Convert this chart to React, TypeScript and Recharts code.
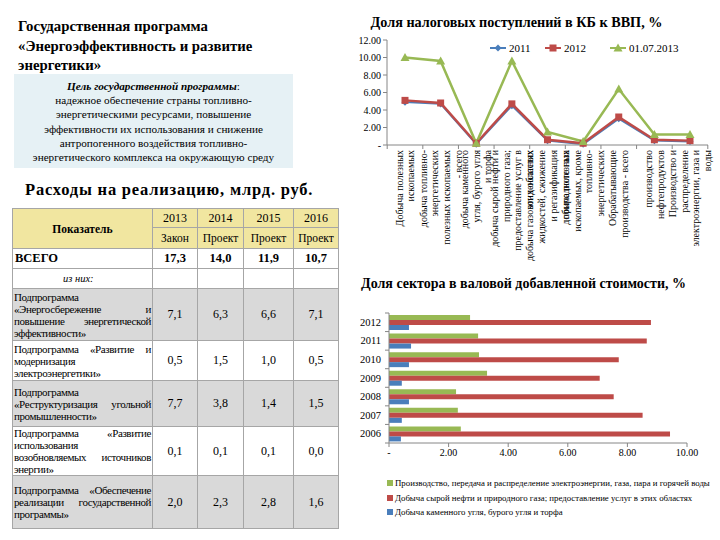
import React from "react";
import { LineChart, Line, XAxis, YAxis, Legend, BarChart, Bar } from "recharts";

const SERIF = '"Liberation Serif", "Times New Roman", serif';

// --- таблица расходов ---
const planYears = ["2013", "2014", "2015", "2016"];
const planStatus = ["Закон", "Проект", "Проект", "Проект"];
const totalSpend = ["17,3", "14,0", "11,9", "10,7"];
const subprogramNames = [
  "Подпрограмма «Энергосбережение и повышение энергетической эффективности»",
  "Подпрограмма «Развитие и модернизация электроэнергетики»",
  "Подпрограмма «Реструктуризация угольной промышленности»",
  "Подпрограмма «Развитие использования возобновляемых источников энергии»",
  "Подпрограмма «Обеспечение реализации государственной программы»",
];
const subprogramSpend = [
  ["7,1", "6,3", "6,6", "7,1"],
  ["0,5", "1,5", "1,0", "0,5"],
  ["7,7", "3,8", "1,4", "1,5"],
  ["0,1", "0,1", "0,1", "0,0"],
  ["2,0", "2,3", "2,8", "1,6"],
];

// --- доля налоговых поступлений ---
const taxCategories = [
  "Добыча полезных\nископаемых",
  "добыча топливно-\nэнергетических\nполезных ископаемых\n- всего",
  "добыча каменного\nугля, бурого угля\nи торфа",
  "добыча сырой нефти и\nприродного газа;\nпредоставление услуг в\nэтих областях",
  "добыча газоконденсатных\nжидкостей, сжижение\nи регазификация\nприродного газа",
  "добыча полезных\nископаемых, кроме\nтопливно-\nэнергетических",
  "Обрабатывающие\nпроизводства - всего",
  "производство\nнефтепродуктов",
  "Производство и\nраспределение\nэлектроэнергии, газа и\nводы",
];
const tax2011 = [4.9, 4.7, 0.1, 4.5, 0.5, 0.1, 3.0, 0.5, 0.4];
const tax2012 = [5.1, 4.8, 0.2, 4.7, 0.6, 0.2, 3.2, 0.6, 0.5];
const tax2013 = [10.0, 9.6, 0.2, 9.6, 1.5, 0.4, 6.4, 1.2, 1.2];
const taxTicks = [0, 2, 4, 6, 8, 10, 12];

// --- доля сектора в ВДС ---
const sectorYears = ["2006", "2007", "2008", "2009", "2010", "2011", "2012"];
const sectorPower = [2.41, 2.31, 2.25, 3.29, 3.02, 2.99, 2.72];
const sectorOilGas = [9.43, 8.51, 7.54, 7.07, 7.71, 8.65, 8.79];
const sectorCoal = [0.4, 0.43, 0.67, 0.43, 0.67, 0.74, 0.67];
const sectorTicks = [0, 2, 4, 6, 8, 10];

const BLUE = "#4A7EBB";
const RED = "#BE4B48";
const GREEN = "#98B954";
const AXIS = "#868686";

const taxData = taxCategories.map((c, i) => ({
  cat: c,
  y2011: tax2011[i],
  y2012: tax2012[i],
  y2013: tax2013[i],
}));

const sectorData = sectorYears.map((y, i) => ({
  year: y,
  power: sectorPower[i],
  oilgas: sectorOilGas[i],
  coal: sectorCoal[i],
}));

const fmt = (v: number) => (v === 0 ? "-" : v.toFixed(2));

// excel style: tick marks between categories
const TAX_HALF = 17.8;
const TaxTick = (props: any) => {
  const { x, y, payload, index } = props;
  const lines = String(payload.value).split("\n");
  const lh = 11.7;
  const n = lines.length;
  return (
    <g transform={`translate(${x},${y})`}>
      <line x1={-TAX_HALF} y1={0} x2={-TAX_HALF} y2={4} stroke={AXIS} />
      {index === taxCategories.length - 1 && (
        <line x1={TAX_HALF} y1={0} x2={TAX_HALF} y2={4} stroke={AXIS} />
      )}
      <text transform="rotate(-90)" textAnchor="end" fontSize={10} fontFamily={SERIF} fill="#000">
        {lines.map((l, i) => (
          <tspan key={i} x={-5} y={(i - (n - 1) / 2) * lh + 3.5}>
            {l}
          </tspan>
        ))}
      </text>
    </g>
  );
};

const SECTOR_HALF = 130 / 7 / 2;
const YearTick = (props: any) => {
  const { x, y, payload, index } = props;
  return (
    <g transform={`translate(${x},${y})`}>
      <line x1={-4} y1={-SECTOR_HALF} x2={0} y2={-SECTOR_HALF} stroke={AXIS} />
      {index === 0 && <line x1={-4} y1={SECTOR_HALF} x2={0} y2={SECTOR_HALF} stroke={AXIS} />}
      <text x={-8} y={0} dy={3.5} textAnchor="end" fontSize={10.5} fontFamily={SERIF} fill="#000">
        {payload.value}
      </text>
    </g>
  );
};

const diamondDot = (p: any) => (
  <path
    key={`d${p.index}`}
    d={`M${p.cx},${p.cy - 3.5}L${p.cx + 3.5},${p.cy}L${p.cx},${p.cy + 3.5}L${p.cx - 3.5},${p.cy}Z`}
    fill={BLUE}
  />
);
const squareDot = (p: any) => (
  <rect key={`s${p.index}`} x={p.cx - 3.5} y={p.cy - 3.5} width={7} height={7} fill={RED} />
);
const triangleDot = (p: any) => (
  <path
    key={`t${p.index}`}
    d={`M${p.cx},${p.cy - 4.5}L${p.cx + 4.5},${p.cy + 3.5}L${p.cx - 4.5},${p.cy + 3.5}Z`}
    fill={GREEN}
  />
);

const taxLegend = [
  { name: "2011", color: BLUE, shape: "diamond", w: 55 },
  { name: "2012", color: RED, shape: "square", w: 65 },
  { name: "01.07.2013", color: GREEN, shape: "triangle", w: 70 },
];

const TaxLegend = () => (
  <div style={{ display: "flex", fontFamily: SERIF, fontSize: 11, lineHeight: "14px" }}>
    {taxLegend.map((s) => (
      <div key={s.name} style={{ width: s.w, display: "flex", alignItems: "center" }}>
        <svg width={17} height={10} style={{ marginRight: 2 }}>
          <line x1={0} y1={5} x2={16} y2={5} stroke={s.color} strokeWidth={2} />
          {s.shape === "diamond" && <path d="M8,1.5L11.5,5L8,8.5L4.5,5Z" fill={s.color} />}
          {s.shape === "square" && <rect x={4.5} y={1.5} width={7} height={7} fill={s.color} />}
          {s.shape === "triangle" && <path d="M8,0.5L12.5,8.5L3.5,8.5Z" fill={s.color} />}
        </svg>
        <span>{s.name}</span>
      </div>
    ))}
  </div>
);

const sectorLegend = [
  { name: "Производство, передача и распределение электроэнергии, газа, пара и горячей воды", color: GREEN },
  { name: "Добыча сырой нефти и природного газа; предоставление услуг в этих областях", color: RED },
  { name: "Добыча каменного угля, бурого угля и торфа", color: BLUE },
];

const SectorLegend = () => (
  <div style={{ fontFamily: SERIF, fontSize: 8.8, lineHeight: "14.5px", whiteSpace: "nowrap" }}>
    {sectorLegend.map((s) => (
      <div key={s.name} style={{ display: "flex", alignItems: "center" }}>
        <span style={{ width: 6, height: 6, background: s.color, marginRight: 2, display: "inline-block" }} />
        <span>{s.name}</span>
      </div>
    ))}
  </div>
);

const cellBorder = "1px solid #A6A6A6";
const rowHeights = [52, 40, 46, 46, 53];

function SpendTable() {
  const td: React.CSSProperties = { border: cellBorder, textAlign: "center", padding: 0, fontSize: 12 };
  const head: React.CSSProperties = { ...td, background: "#F1E6A0", fontSize: 12 };
  return (
    <table
      style={{
        position: "absolute",
        left: 12,
        top: 208,
        width: 326,
        borderCollapse: "collapse",
        tableLayout: "fixed",
        fontFamily: SERIF,
        color: "#000",
      }}
    >
      <colgroup>
        <col style={{ width: 140 }} />
        <col style={{ width: 45 }} />
        <col style={{ width: 46 }} />
        <col style={{ width: 50 }} />
        <col style={{ width: 45 }} />
      </colgroup>
      <tbody>
        <tr style={{ height: 19 }}>
          <td rowSpan={2} style={{ ...head, fontWeight: "bold", fontSize: 11.5 }}>
            Показатель
          </td>
          {planYears.map((y) => (
            <td key={y} style={head}>
              {y}
            </td>
          ))}
        </tr>
        <tr style={{ height: 21 }}>
          {planStatus.map((s, i) => (
            <td key={i} style={{ ...head, fontSize: 11.5 }}>
              {s}
            </td>
          ))}
        </tr>
        <tr style={{ height: 20 }}>
          <td style={{ ...td, textAlign: "left", fontWeight: "bold", paddingLeft: 2, fontSize: 12.5 }}>ВСЕГО</td>
          {totalSpend.map((v, i) => (
            <td key={i} style={{ ...td, fontWeight: "bold", fontSize: 12.5 }}>
              {v}
            </td>
          ))}
        </tr>
        <tr style={{ height: 20 }}>
          <td style={{ ...td, fontStyle: "italic", fontSize: 10.5, textAlign: "left", paddingLeft: 50 }}>из них:</td>
          {planYears.map((y) => (
            <td key={y} style={td} />
          ))}
        </tr>
        {subprogramNames.map((name, r) => (
          <tr key={r} style={{ height: rowHeights[r], background: r % 2 === 0 ? "#D9D9D9" : "#FFFFFF" }}>
            <td
              style={{
                ...td,
                textAlign: "justify",
                fontSize: 11,
                letterSpacing: -0.4,
                lineHeight: "12px",
                padding: "0 1px",
              }}
            >
              {name}
            </td>
            {subprogramSpend[r].map((v, i) => (
              <td key={i} style={td}>
                {v}
              </td>
            ))}
          </tr>
        ))}
      </tbody>
    </table>
  );
}

export default function App() {
  return (
    <div
      style={{
        position: "absolute",
        left: 0,
        top: 0,
        width: 720,
        height: 540,
        background: "#FFFFFF",
        fontFamily: SERIF,
        color: "#000",
        overflow: "hidden",
      }}
    >
      {/* left panel */}
      <div style={{ position: "absolute", left: 18, top: 17, fontSize: 14.8, fontWeight: "bold", lineHeight: "19.5px" }}>
        Государственная программа
        <br />
        «Энергоэффективность и развитие
        <br />
        энергетики»
      </div>
      <div
        style={{
          position: "absolute",
          left: 14,
          top: 74,
          width: 279,
          height: 94,
          background: "#E6F1F5",
          textAlign: "center",
          fontSize: 11.2,
          lineHeight: "14.2px",
          paddingTop: 5,
          boxSizing: "border-box",
        }}
      >
        <b>
          <i>Цель государственной программы</i>
        </b>
        :
        <br />
        надежное обеспечение страны топливно-
        <br />
        энергетическими ресурсами, повышение
        <br />
        эффективности их использования и снижение
        <br />
        антропогенного воздействия топливно-
        <br />
        энергетического комплекса на окружающую среду
      </div>
      <div
        style={{
          position: "absolute",
          left: 25,
          top: 180,
          fontSize: 16.5,
          fontWeight: "bold",
          letterSpacing: 0.8,
          lineHeight: "20px",
        }}
      >
        Расходы на реализацию, млрд. руб.
      </div>
      <SpendTable />

      {/* tax chart */}
      <div
        style={{
          position: "absolute",
          left: 350,
          top: 13,
          width: 333,
          textAlign: "center",
          fontSize: 14.2,
          fontWeight: "bold",
          lineHeight: "18px",
        }}
      >
        Доля налоговых поступлений в КБ к ВВП, %
      </div>
      <div style={{ position: "absolute", left: 345, top: 30 }}>
        <LineChart width={370} height={270} data={taxData} margin={{ top: 10, right: 7, left: 0, bottom: 5 }}>
          <XAxis
            dataKey="cat"
            interval={0}
            height={150}
            padding={{ left: 18, right: 18 }}
            stroke={AXIS}
            tickLine={false}
            tickSize={0}
            tickMargin={0}
            tick={<TaxTick />}
          />
          <YAxis
            width={42}
            domain={[0, 12]}
            ticks={taxTicks}
            tickFormatter={fmt}
            stroke={AXIS}
            tickSize={4}
            tick={{ fontSize: 10, fill: "#000", fontFamily: SERIF }}
          />
          <Legend
            layout="vertical"
            align="center"
            verticalAlign="middle"
            content={<TaxLegend />}
            wrapperStyle={{ top: 11, left: 145, width: 220 }}
          />
          <Line
            dataKey="y2011"
            name="2011"
            stroke={BLUE}
            strokeWidth={2}
            dot={diamondDot}
            isAnimationActive={false}
          />
          <Line
            dataKey="y2012"
            name="2012"
            stroke={RED}
            strokeWidth={2.5}
            dot={squareDot}
            isAnimationActive={false}
          />
          <Line
            dataKey="y2013"
            name="01.07.2013"
            stroke={GREEN}
            strokeWidth={2.5}
            dot={triangleDot}
            isAnimationActive={false}
          />
        </LineChart>
      </div>

      {/* sector chart */}
      <div
        style={{
          position: "absolute",
          left: 361,
          top: 275,
          fontSize: 14,
          fontWeight: "bold",
          lineHeight: "18px",
          whiteSpace: "nowrap",
        }}
      >
        Доля сектора в валовой добавленной стоимости, %
      </div>
      <div style={{ position: "absolute", left: 345, top: 300 }}>
        <BarChart
          width={360}
          height={230}
          data={sectorData}
          layout="vertical"
          barGap={0}
          barSize={5}
          margin={{ top: 13, right: 18, left: 0, bottom: 65 }}
        >
          <XAxis
            type="number"
            domain={[0, 10]}
            ticks={sectorTicks}
            tickFormatter={fmt}
            height={22}
            stroke={AXIS}
            tickSize={4}
            tick={{ fontSize: 10, fill: "#000", fontFamily: SERIF }}
          />
          <YAxis
            type="category"
            dataKey="year"
            reversed
            width={44}
            interval={0}
            stroke={AXIS}
            tickLine={false}
            tickSize={0}
            tickMargin={0}
            tick={<YearTick />}
          />
          <Legend
            layout="vertical"
            align="center"
            verticalAlign="middle"
            content={<SectorLegend />}
            wrapperStyle={{ top: 176, left: 42, width: 330 }}
          />
          <Bar dataKey="power" fill={GREEN} isAnimationActive={false} />
          <Bar dataKey="oilgas" fill={RED} isAnimationActive={false} />
          <Bar dataKey="coal" fill={BLUE} isAnimationActive={false} />
        </BarChart>
      </div>
    </div>
  );
}
